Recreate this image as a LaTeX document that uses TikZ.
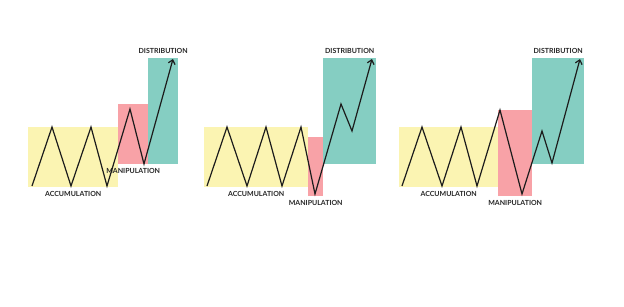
\documentclass[tikz,border=0pt]{standalone}
\usepackage{fontspec}
\newfontfamily\lblfont{Lato}
\usetikzlibrary{positioning,arrows.meta}
\definecolor{accyellow}{HTML}{FBF4B2}
\definecolor{manpink}{HTML}{F8A2A7}
\definecolor{disteal}{HTML}{85CEC2}
\definecolor{pricegray}{HTML}{1C1C1C}
\tikzset{
  zone/.style={rectangle,draw=none,inner sep=0pt,anchor=north west},
  acc/.style={zone,fill=accyellow},
  man/.style={zone,fill=manpink},
  dis/.style={zone,fill=disteal},
  lbl/.style={font=\lblfont\bfseries\fontsize{7}{8.5}\selectfont,text=black!85,inner sep=0pt},
  price/.style={draw=pricegray,line width=1.2pt,line join=miter,
    -{Straight Barb[length=4pt,width=7pt,line width=1.2pt]}},
}
\begin{document}
\begin{tikzpicture}[x=1pt,y=-1pt]
  \useasboundingbox[fill=white] (0,0) rectangle (624,306);
  % panel 1
  \node[acc,minimum width=90pt,minimum height=60pt] (acc1) at (28,127) {};
  \node[man,minimum width=30pt,minimum height=60pt] (man1) at (118,104) {};
  \node[dis,minimum width=30pt,minimum height=106pt] (dis1) at (148,58) {};
  \node[lbl,above=4pt of dis1] (dislbl1) {DISTRIBUTION};
  \node[lbl,below=4pt of man1] (manlbl1) {MANIPULATION};
  \node[lbl,below=4pt of acc1] (acclbl1) {ACCUMULATION};
  \foreach \x/\y [count=\i] in {32/186,52/127,71/186,91/127,107/186,130/109,144/164,173/59}
    \coordinate (a\i) at (\x,\y);
  \draw[price] (a1) -- (a2) -- (a3) -- (a4) -- (a5) -- (a6) -- (a7) -- (a8);
  % panel 2
  \node[acc,minimum width=104pt,minimum height=60pt] (acc2) at (204,127) {};
  \node[man,minimum width=15pt,minimum height=59pt] (man2) at (308,137) {};
  \node[dis,minimum width=53pt,minimum height=106pt] (dis2) at (323,58) {};
  \node[lbl,above=4pt of dis2] (dislbl2) {DISTRIBUTION};
  \node[lbl,below=4pt of man2] (manlbl2) {MANIPULATION};
  \node[lbl,below=4pt of acc2] (acclbl2) {ACCUMULATION};
  \foreach \x/\y [count=\i] in {207/186,227/127,247/186,266/127,282/186,301/127,315/194,341/104,352/131,372/59}
    \coordinate (b\i) at (\x,\y);
  \draw[price] (b1) -- (b2) -- (b3) -- (b4) -- (b5) -- (b6) -- (b7) -- (b8) -- (b9) -- (b10);
  % panel 3
  \node[acc,minimum width=99pt,minimum height=60pt] (acc3) at (399,127) {};
  \node[man,minimum width=34pt,minimum height=86pt] (man3) at (498,110) {};
  \node[dis,minimum width=52pt,minimum height=106pt] (dis3) at (532,58) {};
  \node[lbl,above=4pt of dis3] (dislbl3) {DISTRIBUTION};
  \node[lbl,below=4pt of man3] (manlbl3) {MANIPULATION};
  \node[lbl,below=4pt of acc3] (acclbl3) {ACCUMULATION};
  \foreach \x/\y [count=\i] in {402/186,422/127,442/186,461/127,477/186,500/110,522/194,542/131,552/163,580/59}
    \coordinate (c\i) at (\x,\y);
  \draw[price] (c1) -- (c2) -- (c3) -- (c4) -- (c5) -- (c6) -- (c7) -- (c8) -- (c9) -- (c10);
\end{tikzpicture}
\end{document}
